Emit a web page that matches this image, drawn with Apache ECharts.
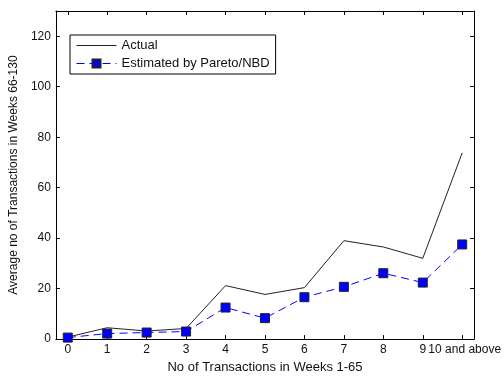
<!DOCTYPE html>
<html>
<head>
<meta charset="utf-8">
<script src="https://cdn.jsdelivr.net/npm/echarts@6/dist/echarts.min.js"></script>
<style>
  html, body { margin: 0; padding: 0; background: #fff; }
  #chart { width: 504px; height: 379px; }
</style>
</head>
<body>
<div id="chart"></div>
<script>
// x positions and their tick labels
const xPositions = [0, 1, 2, 3, 4, 5, 6, 7, 8, 9, 10];
const xLabels = ['0', '1', '2', '3', '4', '5', '6', '7', '8', '9', '10 and above'];
const yTicks = [0, 20, 40, 60, 80, 100, 120];

const actual = [0.8, 4.5, 3.2, 4.2, 21.2, 17.7, 20.4, 39.0, 36.5, 32.0, 73.8];
const estimated = [0.6, 2.2, 2.6, 3.0, 12.5, 8.3, 16.6, 20.7, 26.1, 22.4, 37.5];

const chart = echarts.init(document.getElementById('chart'));

const font = 'Liberation Sans, Arial, sans-serif';
const boxLine = { show: true, onZero: false, lineStyle: { color: '#000', width: 1 } };
const inTick = (vals) => ({ show: true, inside: true, length: 4, customValues: vals, lineStyle: { color: '#000' } });

const option = {
  animation: false,
  backgroundColor: '#fff',
  grid: { left: 53, right: 29, top: 11, bottom: 34 },
  legend: {
    orient: 'vertical',
    left: 70,
    top: 35,
    itemWidth: 40,
    itemHeight: 10,
    itemGap: 5,
    padding: [4, 6, 4, 6],
    borderColor: '#000',
    borderWidth: 1,
    borderRadius: 0,
    backgroundColor: '#fff',
    lineStyle: { width: 1 },
    textStyle: { fontFamily: font, fontSize: 13, color: '#111' },
    data: [
      { name: 'Actual', itemStyle: { opacity: 0 } },
      { name: 'Estimated by Pareto/NBD' }
    ]
  },
  xAxis: [
    {
      type: 'value', min: -0.3, max: 10.3,
      name: 'No of Transactions in Weeks 1-65',
      nameLocation: 'middle', nameGap: 21,
      nameTextStyle: { fontFamily: font, fontSize: 13, color: '#111' },
      axisLine: boxLine,
      axisTick: inTick(xPositions),
      axisLabel: {
        customValues: xPositions,
        formatter: (v) => {
          const i = Math.round(v);
          return i === 10 ? '{last|' + xLabels[i] + '}' : xLabels[i];
        },
        rich: { last: { padding: [0, 0, 0, 5], fontFamily: font, fontSize: 12, color: '#111' } },
        fontFamily: font, fontSize: 12, color: '#111', margin: 5
      },
      splitLine: { show: false }
    },
    {
      type: 'value', position: 'top', min: -0.3, max: 10.3,
      axisLine: boxLine,
      axisTick: inTick(xPositions),
      axisLabel: { show: false },
      splitLine: { show: false }
    }
  ],
  yAxis: [
    {
      type: 'value', min: 0, max: 130,
      name: 'Average no of Transactions in Weeks 66-130',
      nameLocation: 'middle', nameGap: 33,
      nameTextStyle: { fontFamily: font, fontSize: 12, color: '#111' },
      axisLine: boxLine,
      axisTick: inTick(yTicks),
      axisLabel: { customValues: yTicks, fontFamily: font, fontSize: 12, color: '#111', margin: 5 },
      splitLine: { show: false }
    },
    {
      type: 'value', position: 'right', min: 0, max: 130,
      axisLine: boxLine,
      axisTick: inTick(yTicks),
      axisLabel: { show: false },
      splitLine: { show: false }
    }
  ],
  series: [
    {
      name: 'Actual',
      type: 'line',
      data: xPositions.map((x, i) => [x, actual[i]]),
      showSymbol: false,
      symbol: 'none',
      lineStyle: { color: '#222', width: 1 },
      itemStyle: { color: '#222' },
      z: 2
    },
    {
      name: 'Estimated by Pareto/NBD',
      type: 'line',
      data: xPositions.map((x, i) => [x, estimated[i]]),
      symbol: 'rect',
      symbolSize: 9,
      lineStyle: { color: '#0000ff', width: 1, type: [8, 5] },
      itemStyle: { color: '#0000ff', borderColor: '#222', borderWidth: 1 },
      z: 3
    }
  ]
};

chart.setOption(option);
</script>
</body>
</html>
